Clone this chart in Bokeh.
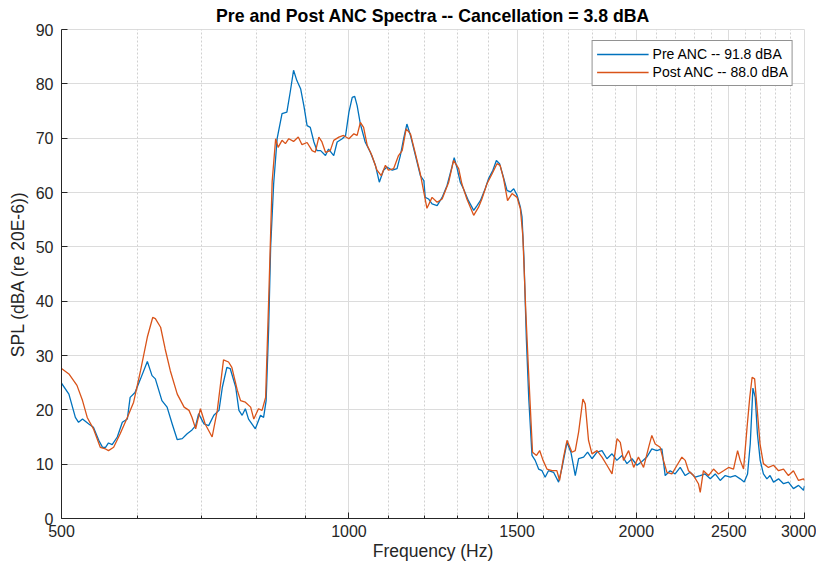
from bokeh.plotting import figure
from bokeh.models import Range1d, FixedTicker, NumeralTickFormatter, Legend, LegendItem
from bokeh.embed import file_html
from bokeh.resources import INLINE

title_text = "Pre and Post ANC Spectra -- Cancellation = 3.8 dBA"
x_label = "Frequency (Hz)"
y_label = "SPL (dBA (re 20E-6))"
pre_label = "Pre ANC -- 91.8 dBA"
post_label = "Post ANC -- 88.0 dBA"

x_major_ticks = [500, 1000, 1500, 2000, 2500, 3000]
x_minor_ticks = [600, 700, 800, 900, 1100, 1200, 1300, 1400, 1600, 1700, 1800, 1900,
                 2100, 2200, 2300, 2400, 2600, 2700, 2800, 2900]
y_ticks = [0, 10, 20, 30, 40, 50, 60, 70, 80, 90]

pre_freq = [500, 509, 517, 521, 526, 534, 540, 547, 552, 556, 560, 565, 572, 579, 586, 590, 597, 605,
            615, 622, 627, 637, 645, 653, 661, 669, 677, 685, 691, 696, 705, 713, 722, 731, 737, 745,
            751, 761, 767, 773, 779, 785, 798, 808, 814, 819, 824, 828, 834, 841, 851, 861, 868, 875,
            882, 890, 897, 904, 911, 919, 926, 934, 945, 952, 964, 972, 984, 992, 1000, 1008, 1014,
            1020, 1028, 1040, 1053, 1066, 1076, 1087, 1096, 1110, 1123, 1132, 1141, 1150, 1160, 1174,
            1188, 1198, 1202, 1212, 1222, 1237, 1252, 1267, 1282, 1289, 1297, 1308, 1318, 1334, 1351,
            1362, 1373, 1389, 1400, 1415, 1427, 1438, 1450, 1464, 1476, 1488, 1500, 1512, 1518, 1525,
            1534, 1543, 1555, 1567, 1580, 1593, 1605, 1618, 1638, 1658, 1672, 1692, 1708, 1726, 1740,
            1761, 1778, 1797, 1819, 1841, 1863, 1886, 1908, 1932, 1955, 1979, 2003, 2027, 2051, 2076,
            2101, 2127, 2144, 2170, 2196, 2223, 2250, 2277, 2305, 2333, 2361, 2390, 2419, 2448, 2478,
            2508, 2538, 2569, 2594, 2615, 2632, 2649, 2664, 2678, 2696, 2717, 2740, 2761, 2784, 2818,
            2852, 2886, 2921, 2957, 2993, 3000]
pre_db = [24.9, 22.9, 18.6, 17.7, 18.3, 17.4, 16.8, 14.4, 13.1, 13.1, 13.9, 13.6, 15.0, 17.7, 18.3, 22.3,
          23.2, 25.7, 28.9, 26.3, 25.7, 21.7, 20.5, 17.4, 14.5, 14.7, 15.6, 16.3, 17.1, 19.3, 17.4, 17.1,
          19.0, 19.9, 24.2, 27.8, 27.6, 24.2, 19.9, 19.0, 20.2, 18.3, 16.5, 19.0, 18.6, 21.7, 35.0, 50.0,
          61.6, 69.9, 74.5, 74.8, 78.5, 82.5, 80.6, 79.1, 76.0, 72.3, 72.0, 69.3, 67.7, 67.7, 66.8, 68.0,
          66.8, 69.3, 69.9, 70.5, 74.8, 77.5, 77.7, 76.0, 72.6, 69.3, 67.4, 65.0, 61.9, 64.1, 64.7, 64.1,
          64.4, 66.8, 69.9, 72.6, 70.5, 66.8, 63.1, 62.2, 59.1, 58.8, 57.9, 57.6, 59.1, 61.3, 64.7, 66.4,
          64.7, 61.9, 60.7, 58.5, 56.7, 57.6, 58.5, 60.7, 62.5, 64.1, 65.9, 65.3, 63.1, 60.4, 60.1, 60.7,
          59.5, 57.3, 55.5, 48.0, 33.0, 22.0, 11.6, 10.7, 9.1, 8.8, 7.6, 8.8, 8.5, 6.7, 9.4, 14.0, 12.2,
          7.9, 11.0, 11.3, 12.2, 11.0, 12.2, 12.5, 11.0, 11.9, 10.7, 11.6, 10.1, 11.0, 9.8, 10.5, 11.3,
          12.8, 12.5, 12.8, 7.9, 8.8, 8.2, 9.4, 7.9, 8.5, 7.6, 7.9, 8.2, 7.3, 8.2, 7.0, 7.9, 7.6, 7.9,
          7.3, 6.7, 8.2, 13.7, 24.0, 22.3, 15.6, 10.7, 8.2, 7.3, 7.9, 6.7, 7.3, 6.4, 6.7, 5.5, 6.1, 5.2,
          6.0]

post_freq = [500, 509, 519, 526, 532, 540, 549, 556, 560, 567, 576, 586, 595, 605, 615, 623, 627, 635,
             642, 650, 661, 672, 680, 685, 691, 699, 707, 719, 728, 739, 748, 754, 764, 770, 779, 789,
             795, 804, 811, 818, 824, 831, 838, 843, 851, 858, 865, 875, 885, 893, 904, 915, 922, 930,
             937, 945, 956, 964, 976, 987, 1000, 1012, 1020, 1028, 1036, 1045, 1057, 1070, 1081, 1092,
             1100, 1114, 1127, 1137, 1148, 1160, 1174, 1188, 1207, 1222, 1237, 1252, 1272, 1287, 1303,
             1313, 1329, 1351, 1367, 1378, 1395, 1412, 1429, 1440, 1452, 1466, 1482, 1500, 1512, 1521,
             1532, 1542, 1557, 1572, 1584, 1597, 1612, 1632, 1651, 1662, 1678, 1692, 1712, 1726, 1740,
             1758, 1768, 1782, 1797, 1819, 1841, 1863, 1886, 1909, 1924, 1939, 1963, 1987, 2010, 2035,
             2060, 2076, 2093, 2118, 2135, 2153, 2179, 2206, 2232, 2250, 2268, 2296, 2323, 2333, 2351,
             2380, 2409, 2438, 2468, 2498, 2528, 2553, 2569, 2590, 2612, 2629, 2644, 2660, 2677, 2695,
             2717, 2750, 2784, 2818, 2852, 2886, 2921, 2957, 2993, 3000]
post_db = [27.6, 26.6, 24.5, 21.7, 18.6, 16.5, 13.1, 12.8, 12.5, 13.1, 15.6, 18.6, 21.4, 27.2, 33.4, 37.0,
           36.8, 35.2, 31.2, 27.2, 22.9, 20.5, 19.9, 18.6, 16.5, 20.2, 17.4, 15.0, 19.9, 29.2, 28.8, 27.8,
           23.6, 21.7, 21.4, 20.5, 18.3, 20.2, 19.9, 22.3, 40.1, 62.0, 69.9, 68.3, 69.6, 69.0, 69.9, 69.4,
           70.2, 68.8, 69.2, 67.7, 67.4, 70.2, 69.3, 67.4, 67.7, 69.6, 70.2, 70.5, 69.9, 70.8, 70.5, 72.9,
           72.0, 68.7, 66.8, 64.1, 63.1, 65.0, 64.1, 64.4, 66.8, 67.7, 71.7, 70.8, 67.1, 63.4, 57.1, 59.1,
           58.2, 58.8, 61.9, 65.9, 64.4, 61.6, 58.8, 55.8, 57.3, 58.8, 61.6, 63.4, 65.3, 65.0, 62.5, 58.5,
           59.8, 59.1, 57.0, 52.0, 38.0, 27.2, 12.2, 11.6, 12.5, 10.7, 9.1, 8.8, 8.8, 7.0, 11.3, 14.4,
           12.2, 12.5, 15.9, 22.0, 21.1, 14.4, 11.9, 12.5, 11.3, 9.8, 8.2, 14.7, 14.0, 10.7, 12.5, 9.4,
           11.3, 9.4, 13.1, 15.3, 13.7, 13.1, 10.7, 8.5, 8.2, 9.8, 11.3, 10.7, 8.8, 7.9, 6.4, 4.8, 8.8,
           7.9, 9.1, 8.2, 8.8, 9.4, 9.1, 12.5, 10.7, 9.1, 16.8, 22.3, 26.0, 25.7, 19.9, 13.7, 10.1, 9.4,
           9.8, 8.8, 9.1, 7.9, 8.8, 7.0, 7.3, 7.0]

FONT = "Liberation Sans"
DARK = "#262626"

p = figure(width=816, height=563, x_axis_type="log",
           x_range=Range1d(500, 3000), y_range=Range1d(0, 90),
           output_backend="svg", toolbar_location=None,
           min_border_left=61, min_border_right=12, min_border_top=29, min_border_bottom=45,
           title=title_text)

p.title.text_font = FONT
p.title.text_font_size = "17.7px"
p.title.text_font_style = "bold"
p.title.text_color = "#000000"
p.title.align = "center"
p.title.standoff = 7

p.background_fill_color = "white"
p.border_fill_color = "white"
p.outline_line_color = "#dcdcdc"

xt = FixedTicker(ticks=x_major_ticks, minor_ticks=x_minor_ticks)
yt = FixedTicker(ticks=y_ticks, minor_ticks=[])
p.xaxis.ticker = xt
p.yaxis.ticker = yt
p.xgrid.ticker = xt
p.ygrid.ticker = yt
p.xaxis.formatter = NumeralTickFormatter(format="0")

for ax in (p.xaxis[0], p.yaxis[0]):
    ax.axis_line_color = DARK
    ax.major_tick_line_color = DARK
    ax.minor_tick_line_color = DARK
    ax.major_tick_in = 6
    ax.major_tick_out = 0
    ax.minor_tick_in = 3
    ax.minor_tick_out = 0
    ax.major_label_text_font = FONT
    ax.major_label_text_font_size = "16px"
    ax.major_label_text_color = DARK
    ax.axis_label_text_font = FONT
    ax.axis_label_text_font_size = "17.5px"
    ax.axis_label_text_font_style = "normal"
    ax.axis_label_text_color = DARK

p.xaxis.axis_label = x_label
p.yaxis.axis_label = y_label
p.xaxis.major_label_standoff = 6
p.xaxis.axis_label_standoff = 1
p.yaxis.major_label_standoff = 8
p.yaxis.axis_label_standoff = 5

p.xgrid.grid_line_color = "#dcdcdc"
p.xgrid.minor_grid_line_color = "#d0d0d0"
p.xgrid.minor_grid_line_dash = "2 2"
p.ygrid.grid_line_color = "#dcdcdc"

r_pre = p.line(pre_freq, pre_db, line_color="#0072BD", line_width=1.3)
r_post = p.line(post_freq, post_db, line_color="#D95319", line_width=1.3)

legend = Legend(items=[LegendItem(label=pre_label, renderers=[r_pre]),
                       LegendItem(label=post_label, renderers=[r_post])],
                location="top_right", margin=11, padding=4, spacing=0,
                glyph_width=52, glyph_height=18, label_height=18, label_standoff=4,
                label_text_font=FONT, label_text_font_size="14px", label_text_color="#000000",
                border_line_color=DARK, border_line_width=1,
                background_fill_color="white", background_fill_alpha=1.0)
p.add_layout(legend)

open("out.html", "w").write(file_html(p, INLINE))
